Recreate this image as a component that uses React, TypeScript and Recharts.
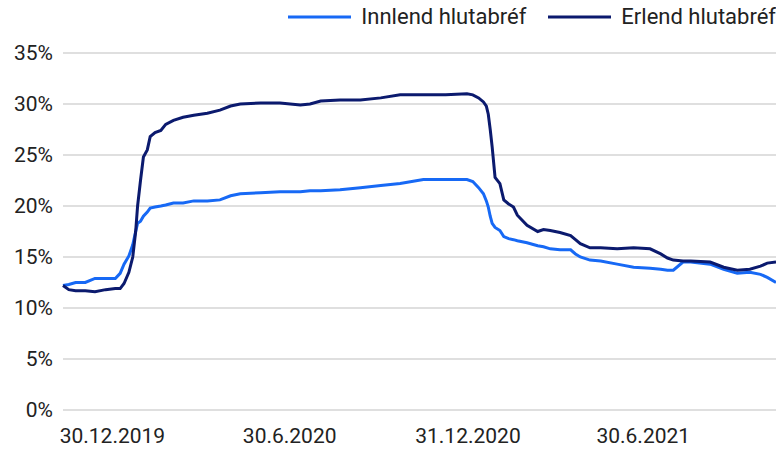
import { LineChart, Line, XAxis, YAxis, CartesianGrid, Legend } from "recharts";

const dates = [
  "2019-11-09", "2019-11-15", "2019-11-22", "2019-12-02", "2019-12-12", "2019-12-23",
  "2020-01-02", "2020-01-07", "2020-01-11", "2020-01-16", "2020-01-20", "2020-01-23",
  "2020-01-25", "2020-01-28", "2020-01-31", "2020-02-04", "2020-02-07", "2020-02-12",
  "2020-02-18", "2020-02-23", "2020-03-02", "2020-03-12", "2020-03-23", "2020-04-06",
  "2020-04-19", "2020-04-30", "2020-05-10", "2020-05-31", "2020-06-20", "2020-07-11",
  "2020-07-21", "2020-08-01", "2020-08-21", "2020-09-11", "2020-10-02", "2020-10-22",
  "2020-11-15", "2020-12-08", "2020-12-30", "2021-01-05", "2021-01-11", "2021-01-16",
  "2021-01-19", "2021-01-21", "2021-01-23", "2021-01-25", "2021-01-28", "2021-02-02",
  "2021-02-06", "2021-02-11", "2021-02-16", "2021-02-20", "2021-03-02", "2021-03-13",
  "2021-03-19", "2021-03-26", "2021-04-05", "2021-04-16", "2021-04-21", "2021-04-26",
  "2021-05-06", "2021-05-17", "2021-06-03", "2021-06-20", "2021-07-07", "2021-07-18",
  "2021-07-25", "2021-07-31", "2021-08-10", "2021-08-18", "2021-09-07", "2021-09-21",
  "2021-10-05", "2021-10-18", "2021-10-29", "2021-11-05", "2021-11-14",
];

const innlend = [
  12.2, 12.3, 12.5, 12.5, 12.9, 12.9,
  12.9, 13.4, 14.3, 15.1, 16.2, 17.5,
  18.3, 18.5, 19.0, 19.4, 19.8, 19.9,
  20.0, 20.1, 20.3, 20.3, 20.5, 20.5,
  20.6, 21.0, 21.2, 21.3, 21.4, 21.4,
  21.5, 21.5, 21.6, 21.8, 22.0, 22.2,
  22.6, 22.6, 22.6, 22.4, 21.8, 21.2,
  20.5, 19.9, 19.0, 18.3, 17.9, 17.6,
  17.0, 16.8, 16.7, 16.6, 16.4, 16.1,
  16.0, 15.8, 15.7, 15.7, 15.3, 15.0,
  14.7, 14.6, 14.3, 14.0, 13.9, 13.8,
  13.7, 13.7, 14.5, 14.5, 14.3, 13.8,
  13.4, 13.5, 13.3, 13.0, 12.5,
];

const erlend = [
  12.2, 11.8, 11.7, 11.7, 11.6, 11.8,
  11.9, 11.9, 12.4, 13.5, 15.0, 17.5,
  20.0, 22.5, 24.8, 25.5, 26.8, 27.2,
  27.4, 28.0, 28.4, 28.7, 28.9, 29.1,
  29.4, 29.8, 30.0, 30.1, 30.1, 29.9,
  30.0, 30.3, 30.4, 30.4, 30.6, 30.9,
  30.9, 30.9, 31.0, 30.9, 30.6, 30.2,
  29.8, 29.0, 27.5, 25.8, 22.8, 22.2,
  20.6, 20.2, 19.9, 19.1, 18.1, 17.5,
  17.7, 17.6, 17.4, 17.1, 16.7, 16.3,
  15.9, 15.9, 15.8, 15.9, 15.8, 15.3,
  14.9, 14.7, 14.6, 14.6, 14.5, 14.0,
  13.7, 13.8, 14.1, 14.4, 14.5,
];

const xTicks = ["2019-12-30", "2020-06-30", "2020-12-31", "2021-06-30"];
const yTicks = [0, 5, 10, 15, 20, 25, 30, 35];

const toTime = (s: string) => {
  const [y, m, d] = s.split("-").map(Number);
  return Date.UTC(y, m - 1, d);
};

const data = dates.map((d, i) => ({
  t: toTime(d),
  innlend: innlend[i],
  erlend: erlend[i],
}));

const fmtDate = (t: number) => {
  const d = new Date(t);
  return `${d.getUTCDate()}.${d.getUTCMonth() + 1}.${d.getUTCFullYear()}`;
};

const LIGHT = "#1769f5";
const DARK = "#0b1a6e";
const FONT = "Roboto, sans-serif";

function LegendBox() {
  const items = [
    { label: "Innlend hlutabréf", color: LIGHT },
    { label: "Erlend hlutabréf", color: DARK },
  ];
  return (
    <div style={{ display: "flex", alignItems: "center", fontFamily: FONT, fontSize: 22, color: "#222" }}>
      {items.map((it) => (
        <div key={it.label} style={{ display: "flex", alignItems: "center", marginLeft: 22 }}>
          <svg width={63} height={6} style={{ marginRight: 10 }}>
            <line x1={0} y1={3} x2={63} y2={3} stroke={it.color} strokeWidth={3} />
          </svg>
          <span>{it.label}</span>
        </div>
      ))}
    </div>
  );
}

export default function App() {
  return (
    <div style={{ position: "absolute", left: 0, top: 0 }}>
      <LineChart width={776} height={451} data={data} margin={{ top: 53, right: 0, bottom: 0, left: 0 }}>
        <CartesianGrid horizontal vertical={false} stroke="#d4d4d4" strokeWidth={1.5} />
        <XAxis
          dataKey="t"
          type="number"
          scale="time"
          domain={[toTime("2019-11-09"), toTime("2021-11-14")]}
          ticks={xTicks.map(toTime)}
          tickFormatter={fmtDate}
          axisLine={false}
          tickLine={false}
          tickMargin={12}
          height={41}
          tick={{ fill: "#222", fontSize: 21, fontFamily: FONT }}
        />
        <YAxis
          domain={[0, 35]}
          ticks={yTicks}
          tickFormatter={(v: number) => `${v}%`}
          axisLine={false}
          tickLine={false}
          tickMargin={4}
          width={63}
          tick={{ fill: "#222", fontSize: 21, fontFamily: FONT }}
        />
        <Legend
          layout="horizontal"
          verticalAlign="middle"
          align="center"
          content={() => <LegendBox />}
          wrapperStyle={{ top: 4, right: 0, left: "auto", width: "auto" }}
        />
        <Line type="linear" dataKey="innlend" stroke={LIGHT} strokeWidth={3} dot={false} isAnimationActive={false} />
        <Line type="linear" dataKey="erlend" stroke={DARK} strokeWidth={3} dot={false} isAnimationActive={false} />
      </LineChart>
    </div>
  );
}
